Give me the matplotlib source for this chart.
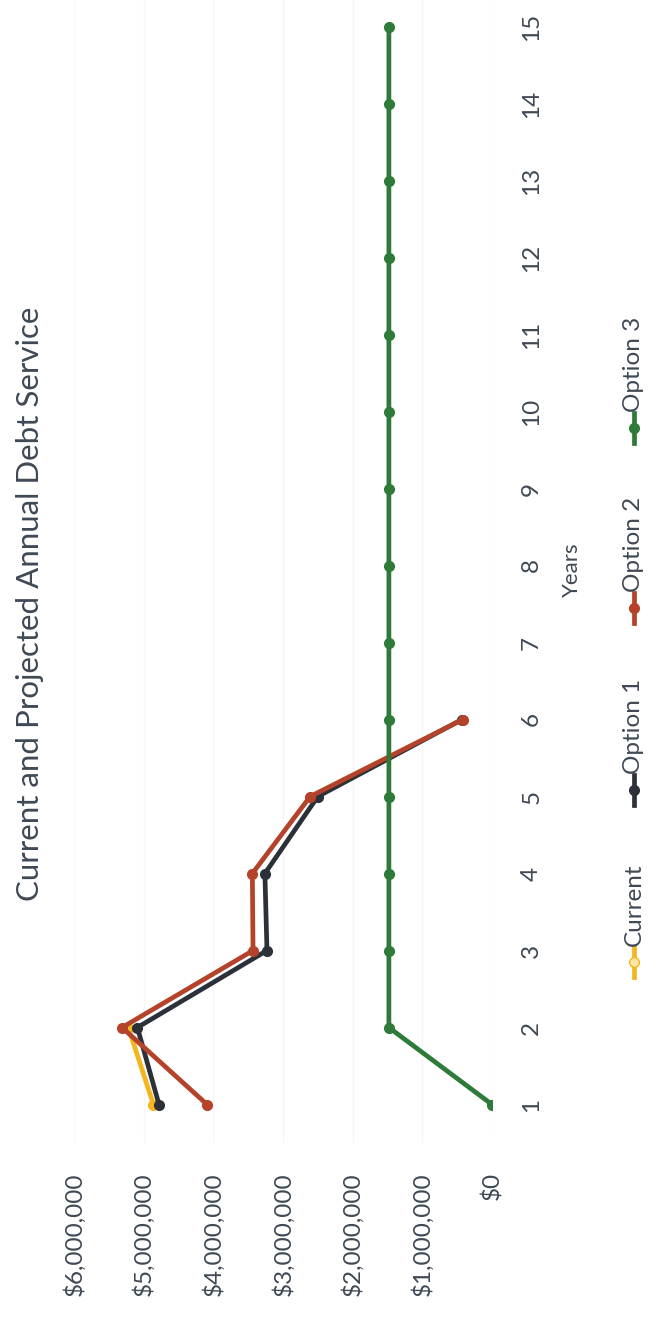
import matplotlib
matplotlib.use("Agg")
import matplotlib.pyplot as plt
from matplotlib.lines import Line2D

# annual debt service by year (dollars)
years = list(range(1, 16))
current = [4860000, 5220000]
option1 = [4780000, 5090000, 3230000, 3260000, 2500000, 430000]
option2 = [4090000, 5310000, 3430000, 3440000, 2610000, 420000]
option3 = [0] + [1480000] * 14

series_names = ["Current", "Option 1", "Option 2", "Option 3"]
series_colors = ["#F5B51E", "#2C3139", "#B4432A", "#2E7A38"]
dollar_ticks = [0, 1000000, 2000000, 3000000, 4000000, 5000000, 6000000]

txt = "#3F4955"
plt.rcParams["font.family"] = ["Lato", "DejaVu Sans"]

W, H = 655, 1320
fig = plt.figure(figsize=(W / 100, H / 100), dpi=100)
fig.patch.set_facecolor("white")

# the chart is laid out turned on its side: dollars run right-to-left, years bottom-to-top
ax = fig.add_axes([74 / W, (H - 1143) / H, (492 - 74) / W, (1143 + 12) / H])
ax.set_xlim(6000000, 0)
ax.set_ylim(0.5, 15.5)

for val in dollar_ticks:
    ax.axvline(val, color="#F6F6F6", lw=1.0, zorder=0)

all_series = [current, option1, option2, option3]
for name, vals, col in zip(series_names, all_series, series_colors):
    ax.plot(vals, years[:len(vals)], color=col, lw=3.4, marker="o", ms=7,
            mfc=col, mec=col, solid_capstyle="round", zorder=3, label=name)

for s in ax.spines.values():
    s.set_visible(False)

ax.set_xticks(dollar_ticks)
ax.set_xticklabels(["${:,.0f}".format(v) for v in dollar_ticks], rotation=90,
                   va="top", ha="center", fontsize=17.5, color=txt)
ax.tick_params(axis="x", length=0, pad=21)

ax.yaxis.tick_right()
ax.set_yticks(years)
ax.set_yticklabels([str(y) for y in years], rotation=90, va="center",
                   ha="left", fontsize=17.5, color=txt)
ax.tick_params(axis="y", length=0, pad=21)

fig.text(572 / W, 1 - 570 / H, "Years", rotation=90, ha="center",
         va="center", fontsize=16, color=txt)
fig.text(30 / W, 1 - 604 / H, "Current and Projected Annual Debt Service",
         rotation=90, ha="center", va="center", fontsize=22.5, color=txt)

# legend, stacked along the side
leg_x = 634
leg_marker_y = [962, 790, 608, 428]
for name, col, my in zip(series_names, series_colors, leg_marker_y):
    fc = "#FCE7A6" if name == "Current" else col
    fig.add_artist(Line2D([leg_x / W, leg_x / W], [1 - (my + 15) / H, 1 - (my - 15) / H],
                          transform=fig.transFigure, color=col, lw=3.4))
    fig.add_artist(Line2D([leg_x / W], [1 - my / H], transform=fig.transFigure,
                          marker="o", ms=7, mfc=fc, mec=col, color=col))
    fig.text(leg_x / W, 1 - (my - 16) / H, name, rotation=90, ha="center",
             va="bottom", fontsize=17.5, color=txt)

fig.savefig("out.png", dpi=100, facecolor="white")
